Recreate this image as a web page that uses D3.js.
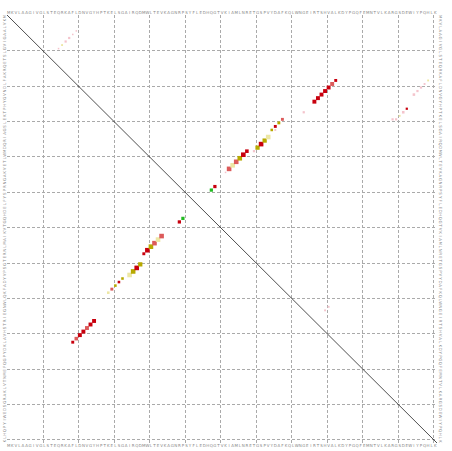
<!DOCTYPE html>
<html>
<head>
<meta charset="utf-8">
<script src="https://cdn.jsdelivr.net/npm/d3@7"></script>
<style>
  body { margin: 0; background: #fff; }
  svg { display: block; font-family: "DejaVu Sans", sans-serif; }
</style>
</head>
<body>
<svg id="chart" width="452" height="451"></svg>
<script>
// residue sequence along both axes (120 positions)
const sequence = "MKVLAAGIVGLSTEQRKAFLDNVGYHPTKELSGAIRQDMWLTEVKAGNRPSYFLEDHQGTVKIAMLNRETGSPVYDAFKQLWNGEIRTSHVALKDYPGQFEMNTVLKARGSDEWIYPQHLK";
const tickLabels = sequence.split("");

// contact points: column index, row index, category, score
const pointI = [18, 19, 20, 21, 22, 23, 24,
  28, 29, 30, 31, 32, 34, 35, 36, 37, 38, 39, 40, 41, 42, 43,
  48, 49, 57, 58,
  62, 63, 64, 65, 66, 67, 69, 70, 71, 72, 73, 74, 75, 76, 77, 75, 61,
  86, 87, 88, 89, 90, 91, 92, 83,
  108, 109, 110, 111, 112, 114, 115, 116, 117, 118,
  14, 15, 16, 17, 18, 19,
  89, 90];
const pointJ = [92, 91, 90, 89, 88, 87, 86,
  78, 77, 76, 75, 74, 73, 72, 71, 70, 67, 66, 65, 64, 63, 62,
  58, 57, 49, 48,
  43, 42, 41, 40, 39, 38, 38, 37, 36, 35, 34, 32, 31, 30, 29, 32, 44,
  24, 23, 22, 21, 20, 19, 18, 27,
  29, 29, 28, 27, 26, 22, 21, 20, 19, 18,
  9, 8, 7, 6, 5, 4,
  83, 82];
const pointType = ["red", "salmon", "red", "red", "salmon", "red", "red",
  "pale", "salmon", "olive", "red", "olive", "pale", "olive", "red", "olive", "red", "red", "olive", "salmon", "pale", "salmon",
  "red", "green", "green", "red",
  "salmon", "pale", "salmon", "olive", "red", "red", "pink", "olive", "red", "olive", "pale", "olive", "red", "olive", "salmon", "pink", "pink",
  "red", "red", "red", "red", "red", "salmon", "red", "pink",
  "pink", "pink", "pale", "pink", "red", "pink", "pink", "pink", "pink", "pale",
  "pink", "pale", "pink", "pink", "pink", "pink",
  "pink", "pink"];
const pointScore = [0.5, 0.7, 0.8, 0.8, 0.8, 0.8, 0.8,
  0.4, 0.5, 0.4, 0.4, 0.4, 1.0, 1.0, 1.0, 0.9, 0.5, 1.0, 1.0, 1.0, 1.0, 1.0,
  0.6, 0.6, 0.6, 0.6,
  1.0, 1.0, 1.0, 1.0, 1.0, 0.7, 0.3, 0.9, 1.0, 0.9, 1.0, 0.4, 0.5, 0.5, 0.5, 0.2, 0.1,
  0.8, 0.8, 0.8, 0.8, 0.8, 0.8, 0.5, 0.3,
  0.3, 0.3, 0.2, 0.4, 0.3, 0.4, 0.3, 0.3, 0.2, 0.2,
  0.1, 0.2, 0.3, 0.3, 0.1, 0.1,
  0.2, 0.2];

const typeNames = ["red", "salmon", "olive", "pale", "green", "pink"];
const typeColors = ["#c8000e", "#dc5a5a", "#b7a900", "#ede7a4", "#22bb22", "#f4c4cc"];

const points = pointI.map((i, k) => ({ i, j: pointJ[k], type: pointType[k], score: pointScore[k] }));

const n = sequence.length;
const svg = d3.select("#chart");
const m = { left: 7, right: 437, top: 15, bottom: 443 };

const x = d3.scaleLinear().domain([0, n]).range([m.left, m.right]);
const y = d3.scaleLinear().domain([0, n]).range([m.top, m.bottom]);
const color = d3.scaleOrdinal().domain(typeNames).range(typeColors);
const size = d3.scaleLinear().domain([0, 1]).range([1.2, 4.6]);

// grid every 10 residues
const gridTicks = d3.range(10, n, 10);
const grid = svg.append("g")
  .attr("stroke", "#aaa")
  .attr("stroke-width", 1)
  .attr("stroke-dasharray", "3,2");
grid.selectAll(".gv").data(gridTicks).enter().append("line")
  .attr("x1", d => Math.round(x(d)) + 0.5).attr("x2", d => Math.round(x(d)) + 0.5)
  .attr("y1", m.top).attr("y2", m.bottom);
grid.selectAll(".gh").data(gridTicks).enter().append("line")
  .attr("y1", d => Math.round(y(d)) + 0.5).attr("y2", d => Math.round(y(d)) + 0.5)
  .attr("x1", m.left).attr("x2", m.right);

// diagonal
svg.append("line")
  .attr("x1", x(0)).attr("y1", y(0))
  .attr("x2", x(n)).attr("y2", y(n))
  .attr("stroke", "#222")
  .attr("stroke-width", 0.8);

// contact squares
svg.append("g").selectAll("rect")
  .data(points)
  .enter()
  .append("rect")
  .attr("x", d => x(d.i + 0.5) - size(d.score) / 2)
  .attr("y", d => y(d.j + 0.5) - size(d.score) / 2)
  .attr("width", d => size(d.score))
  .attr("height", d => size(d.score))
  .attr("fill", d => color(d.type));

// tiny residue labels on all four sides
const idx = d3.range(n);
const lab = svg.append("g")
  .attr("fill", "#888")
  .style("font-size", "4px");
lab.selectAll(".lt").data(idx).enter().append("text")
  .attr("x", d => x(d + 0.5)).attr("y", m.top - 1)
  .attr("text-anchor", "middle")
  .text(d => tickLabels[d]);
lab.selectAll(".lb").data(idx).enter().append("text")
  .attr("x", d => x(d + 0.5)).attr("y", m.bottom + 4)
  .attr("text-anchor", "middle")
  .text(d => tickLabels[d]);
lab.selectAll(".ll").data(idx).enter().append("text")
  .attr("transform", d => `translate(${m.left - 1.5},${y(d + 0.5)}) rotate(-90)`)
  .attr("text-anchor", "middle")
  .text(d => tickLabels[d]);
lab.selectAll(".lr").data(idx).enter().append("text")
  .attr("transform", d => `translate(${m.right + 1.5},${y(d + 0.5)}) rotate(90)`)
  .attr("text-anchor", "middle")
  .text(d => tickLabels[d]);
</script>
</body>
</html>
